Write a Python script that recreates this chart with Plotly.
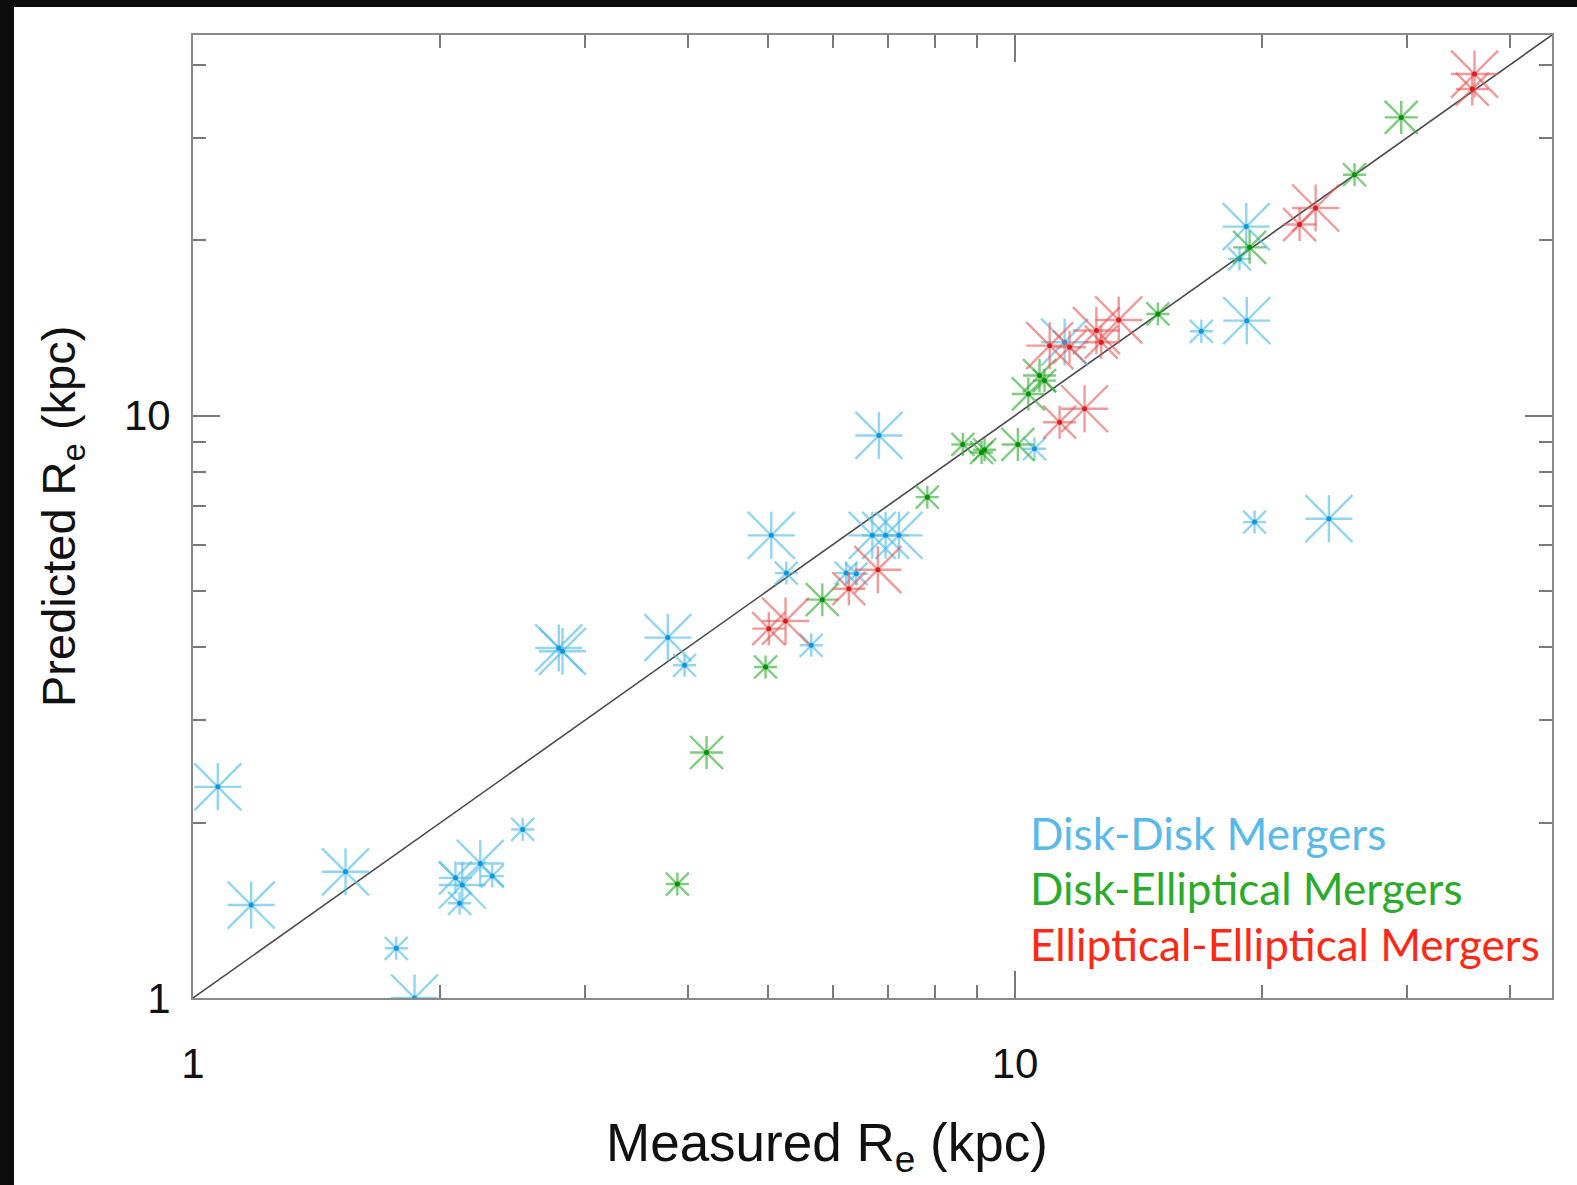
import math
import plotly.graph_objects as go

# Effective radii (kpc): measured from the remnant vs predicted by the model.
# Symbol class: 1 = small, 2 = medium, 3 = large asterisk.

# Disk-disk mergers
dd_measured = [1.072, 1.177, 1.533, 1.767, 1.860, 2.086, 2.126, 2.236, 2.312, 2.110,
               2.518, 2.786, 2.815, 3.781, 3.963, 5.052, 5.269, 5.650, 6.232, 6.410,
               6.830, 6.705, 6.959, 7.223, 10.56, 11.49, 16.85, 19.14, 19.56, 24.09,
               19.11, 18.75]
dd_predicted = [2.304, 1.444, 1.647, 1.217, 1.000, 1.608, 1.563, 1.702, 1.619, 1.454,
                1.947, 3.990, 3.937, 4.156, 3.726, 6.226, 5.363, 4.032, 5.363, 5.350,
                9.241, 6.226, 6.226, 6.226, 8.768, 13.36, 13.95, 14.55, 6.561, 6.650,
                21.10, 18.57]
dd_class = [3, 3, 3, 1, 3, 2, 3, 3, 1, 1,
            1, 3, 3, 3, 1, 3, 1, 1, 1, 1,
            3, 3, 3, 3, 1, 3, 1, 3, 1, 3,
            3, 1]

# Disk-elliptical mergers
de_measured = [3.883, 4.214, 4.972, 5.829, 7.821, 8.640, 9.182, 9.105, 10.08, 10.38,
               10.71, 10.86, 14.92, 19.29, 25.88, 29.50]
de_predicted = [1.569, 2.639, 3.700, 4.829, 7.242, 8.918, 8.733, 8.640, 8.918, 10.89,
                11.71, 11.48, 14.94, 19.44, 25.90, 32.49]
de_class = [1, 2, 1, 2, 1, 1, 1, 1, 2, 2,
            2, 1, 1, 2, 1, 2]

# Elliptical-elliptical mergers
ee_measured = [5.017, 5.258, 6.278, 6.810, 11.33, 12.15, 11.02, 11.65, 12.56, 12.73,
               13.37, 22.19, 23.21, 36.22, 35.99]
ee_predicted = [4.306, 4.437, 5.043, 5.436, 9.739, 10.27, 13.18, 13.10, 13.99, 13.36,
                14.59, 21.27, 22.71, 38.56, 36.34]
ee_class = [2, 3, 2, 3, 2, 3, 3, 2, 3, 2,
            3, 2, 3, 3, 2]

series_names = ["Disk-Disk Mergers", "Disk-Elliptical Mergers",
                "Elliptical-Elliptical Mergers"]

axis_min, axis_max = 1, 45
one_to_one = [axis_min, axis_max]
x_major = [1, 10]
y_major = [1, 10]
minor_vals = [2, 3, 4, 5, 6, 7, 8, 9, 20, 30, 40]

# symbol extent in px for each class
extent = {1: 23, 2: 33, 3: 47}

series = [
    (dd_measured, dd_predicted, dd_class, "rgba(80,188,236,0.9)", "#1296d8", "#5ab9eb"),
    (de_measured, de_predicted, de_class, "rgba(50,175,50,0.9)", "#0a8f0a", "#2aab2a"),
    (ee_measured, ee_predicted, ee_class, "rgba(232,85,85,0.85)", "#d81e1e", "#ff2814"),
]

fig = go.Figure()

# one-to-one line
fig.add_trace(go.Scatter(x=one_to_one, y=one_to_one, mode="lines",
                         line=dict(color="#4a4a4a", width=1.6),
                         showlegend=False, hoverinfo="skip"))

for (mx, py, cls, col, dot, _), name in zip(series, series_names):
    sizes = [extent[c] for c in cls]
    # upright arms (+)
    fig.add_trace(go.Scatter(
        x=mx, y=py, mode="markers", name=name, showlegend=False,
        marker=dict(symbol="cross-thin-open", size=[s / 1.4 for s in sizes],
                    color=col, line=dict(color=col, width=2.4))))
    # diagonal arms (x)
    fig.add_trace(go.Scatter(
        x=mx, y=py, mode="markers", name=name, showlegend=False,
        marker=dict(symbol="x-thin-open", size=sizes,
                    color=col, line=dict(color=col, width=2.4))))
    # centre dot
    fig.add_trace(go.Scatter(
        x=mx, y=py, mode="markers", name=name, showlegend=False,
        marker=dict(symbol="circle", size=5, color=dot, line=dict(width=0))))

axis_common = dict(
    type="log",
    range=[math.log10(axis_min), math.log10(axis_max)],
    showgrid=False, zeroline=False,
    showline=True, linecolor="#8a8a8a", linewidth=2, mirror="allticks",
    ticks="inside", ticklen=27, tickwidth=1.5, tickcolor="#7a7a7a",
    tickfont=dict(family="Liberation Sans, Arial, sans-serif", size=42, color="#111"),
    minor=dict(tickvals=minor_vals, ticks="inside", ticklen=13, tickwidth=1.5,
               tickcolor="#7a7a7a", showgrid=False),
)

fig.update_xaxes(**axis_common, tickvals=x_major, ticktext=[str(v) for v in x_major],
                 ticklabelstandoff=28)
fig.update_yaxes(**axis_common, tickvals=y_major, ticktext=[str(v) for v in y_major],
                 ticklabelstandoff=12)

W, H = 1577, 1185
L, R, T, B = 193, 25, 35, 187
pw, ph = W - L - R, H - T - B


def px_x(p):
    return (p - L) / pw


def px_y(p):
    return (H - B - p) / ph


annotations = []
# legend text
legend_rows = [833, 888, 944]
for (_, _, _, _, _, tcol), name, row in zip(series, series_names, legend_rows):
    annotations.append(dict(
        text=name, xref="paper", yref="paper", x=px_x(1028), y=px_y(row),
        xanchor="left", yanchor="middle", showarrow=False,
        font=dict(family="Lato, 'Open Sans', sans-serif", size=44, color=tcol)))

# axis titles
annotations.append(dict(
    text="Measured R<sub>e</sub> (kpc)", xref="paper", yref="paper",
    x=px_x(827), y=px_y(1146), xanchor="center", yanchor="middle", showarrow=False,
    font=dict(family="Liberation Sans, Arial, sans-serif", size=53, color="#111")))
annotations.append(dict(
    text="Predicted R<sub>e</sub> (kpc)", xref="paper", yref="paper",
    x=px_x(62), y=px_y(517), xanchor="center", yanchor="middle", showarrow=False,
    textangle=-90,
    font=dict(family="Liberation Sans, Arial, sans-serif", size=47, color="#111")))

# dark slide edge along the left and top of the page
shapes = [
    dict(type="rect", xref="paper", yref="paper", x0=px_x(-5), x1=px_x(14),
         y0=px_y(H + 5), y1=px_y(-5), fillcolor="#0d0d0d", line=dict(width=0),
         layer="above"),
    dict(type="rect", xref="paper", yref="paper", x0=px_x(-5), x1=px_x(W + 5),
         y0=px_y(7), y1=px_y(-5), fillcolor="#0d0d0d", line=dict(width=0),
         layer="above"),
]

fig.update_layout(
    width=W, height=H,
    margin=dict(l=L, r=R, t=T, b=B, autoexpand=False),
    paper_bgcolor="white", plot_bgcolor="white",
    showlegend=False,
    annotations=annotations,
    shapes=shapes,
)

fig.write_html("out.html")
